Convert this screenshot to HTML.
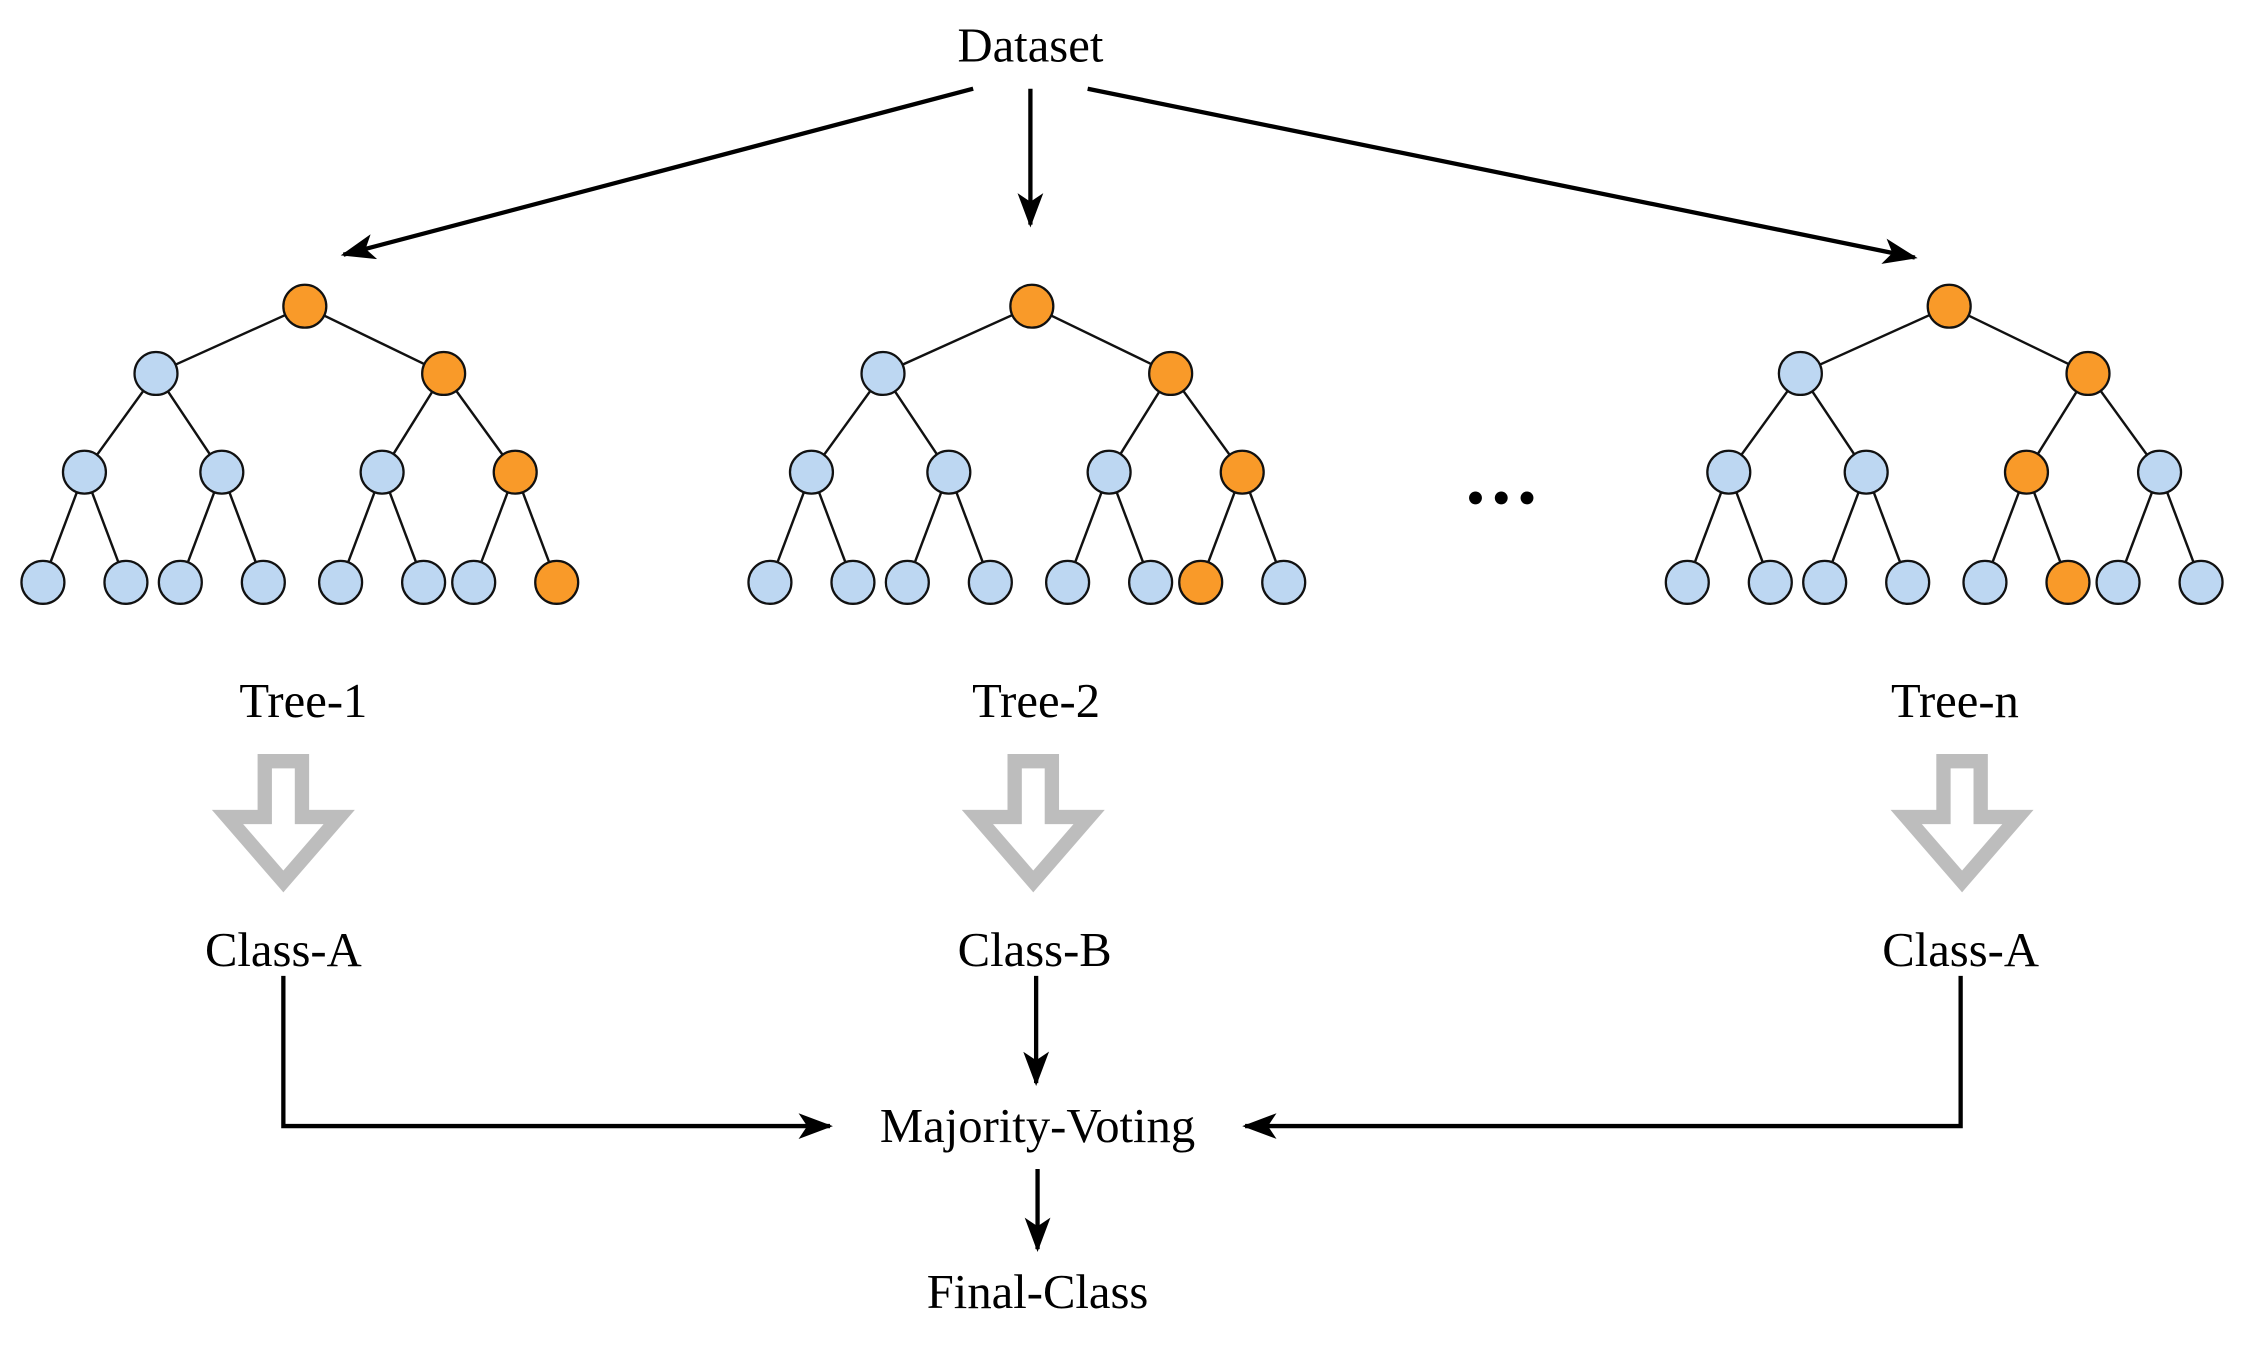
<!DOCTYPE html>
<html><head><meta charset="utf-8"><style>html,body{margin:0;padding:0;background:#fff}svg{display:block}</style></head>
<body>
<svg width="2244" height="1345" viewBox="0 0 1568 940" preserveAspectRatio="none" xmlns="http://www.w3.org/2000/svg">
<defs>
<marker id="ah2" markerWidth="24" markerHeight="18" refX="22" refY="9" orient="auto" markerUnits="userSpaceOnUse" viewBox="0 0 24 18">
<path d="M0,0 L24,9 L0,18 L6,9 Z" fill="#000"/>
</marker>
<g id="tree">
<g stroke="#111" stroke-width="1.7">
<line x1="213" y1="214" x2="109" y2="261"/><line x1="213" y1="214" x2="310" y2="261"/>
<line x1="109" y1="261" x2="59" y2="330"/><line x1="109" y1="261" x2="155" y2="330"/>
<line x1="310" y1="261" x2="267" y2="330"/><line x1="310" y1="261" x2="360" y2="330"/>
<line x1="59" y1="330" x2="30" y2="407"/><line x1="59" y1="330" x2="88" y2="407"/>
<line x1="155" y1="330" x2="126" y2="407"/><line x1="155" y1="330" x2="184" y2="407"/>
<line x1="267" y1="330" x2="238" y2="407"/><line x1="267" y1="330" x2="296" y2="407"/>
<line x1="360" y1="330" x2="331" y2="407"/><line x1="360" y1="330" x2="389" y2="407"/>
</g>
</g>
</defs>
<g font-family="Liberation Serif, serif" font-size="34" text-anchor="middle" fill="#000">
<text x="720" y="43">Dataset</text>
<text x="212" y="501">Tree-1</text>
<text x="724" y="501">Tree-2</text>
<text x="1366" y="501">Tree-n</text>
<text x="198" y="675">Class-A</text>
<text x="723" y="675">Class-B</text>
<text x="1370" y="675">Class-A</text>
<text x="725" y="798">Majority-Voting</text>
<text x="725" y="914">Final-Class</text>
</g>
<g stroke="#000" stroke-width="3" fill="none">
<line x1="680" y1="62" x2="240" y2="178" marker-end="url(#ah2)"/>
<line x1="720" y1="62" x2="720" y2="157" marker-end="url(#ah2)"/>
<line x1="760" y1="62" x2="1338" y2="180" marker-end="url(#ah2)"/>
<polyline points="198,682 198,787 580,787" marker-end="url(#ah2)"/>
<line x1="724" y1="682" x2="724" y2="757" marker-end="url(#ah2)"/>
<polyline points="1370,682 1370,787 870,787" marker-end="url(#ah2)"/>
<line x1="725" y1="817" x2="725" y2="873" marker-end="url(#ah2)"/>
</g>
<use href="#tree"/>
<use href="#tree" transform="translate(508,0)"/>
<use href="#tree" transform="translate(1149,0)"/>
<g stroke="#111" stroke-width="1.6">
<g fill="#bdd7f2">
<circle cx="109" cy="261" r="15"/><circle cx="59" cy="330" r="15"/><circle cx="155" cy="330" r="15"/><circle cx="267" cy="330" r="15"/>
<circle cx="30" cy="407" r="15"/><circle cx="88" cy="407" r="15"/><circle cx="126" cy="407" r="15"/><circle cx="184" cy="407" r="15"/><circle cx="238" cy="407" r="15"/><circle cx="296" cy="407" r="15"/><circle cx="331" cy="407" r="15"/>
</g>
<g fill="#f99a29">
<circle cx="213" cy="214" r="15"/><circle cx="310" cy="261" r="15"/><circle cx="360" cy="330" r="15"/><circle cx="389" cy="407" r="15"/>
</g>
<g fill="#bdd7f2">
<circle cx="617" cy="261" r="15"/><circle cx="567" cy="330" r="15"/><circle cx="663" cy="330" r="15"/><circle cx="775" cy="330" r="15"/>
<circle cx="538" cy="407" r="15"/><circle cx="596" cy="407" r="15"/><circle cx="634" cy="407" r="15"/><circle cx="692" cy="407" r="15"/><circle cx="746" cy="407" r="15"/><circle cx="804" cy="407" r="15"/><circle cx="897" cy="407" r="15"/>
</g>
<g fill="#f99a29">
<circle cx="721" cy="214" r="15"/><circle cx="818" cy="261" r="15"/><circle cx="868" cy="330" r="15"/><circle cx="839" cy="407" r="15"/>
</g>
<g fill="#bdd7f2">
<circle cx="1258" cy="261" r="15"/><circle cx="1208" cy="330" r="15"/><circle cx="1304" cy="330" r="15"/><circle cx="1509" cy="330" r="15"/>
<circle cx="1179" cy="407" r="15"/><circle cx="1237" cy="407" r="15"/><circle cx="1275" cy="407" r="15"/><circle cx="1333" cy="407" r="15"/><circle cx="1387" cy="407" r="15"/><circle cx="1480" cy="407" r="15"/><circle cx="1538" cy="407" r="15"/>
</g>
<g fill="#f99a29">
<circle cx="1362" cy="214" r="15"/><circle cx="1459" cy="261" r="15"/><circle cx="1416" cy="330" r="15"/><circle cx="1445" cy="407" r="15"/>
</g>
</g>
<g fill="#000"><circle cx="1031" cy="348" r="4.5"/><circle cx="1049" cy="348" r="4.5"/><circle cx="1067" cy="348" r="4.5"/></g>
<g fill="none" stroke="#bdbdbd" stroke-width="10" stroke-linejoin="miter">
<path d="M185,532 L211,532 L211,571 L237,571 L198,616 L159,571 L185,571 Z"/>
<path d="M709,532 L735,532 L735,571 L761,571 L722,616 L683,571 L709,571 Z"/>
<path d="M1358,532 L1384,532 L1384,571 L1410,571 L1371,616 L1332,571 L1358,571 Z"/>
</g>
</svg>
</body></html>
